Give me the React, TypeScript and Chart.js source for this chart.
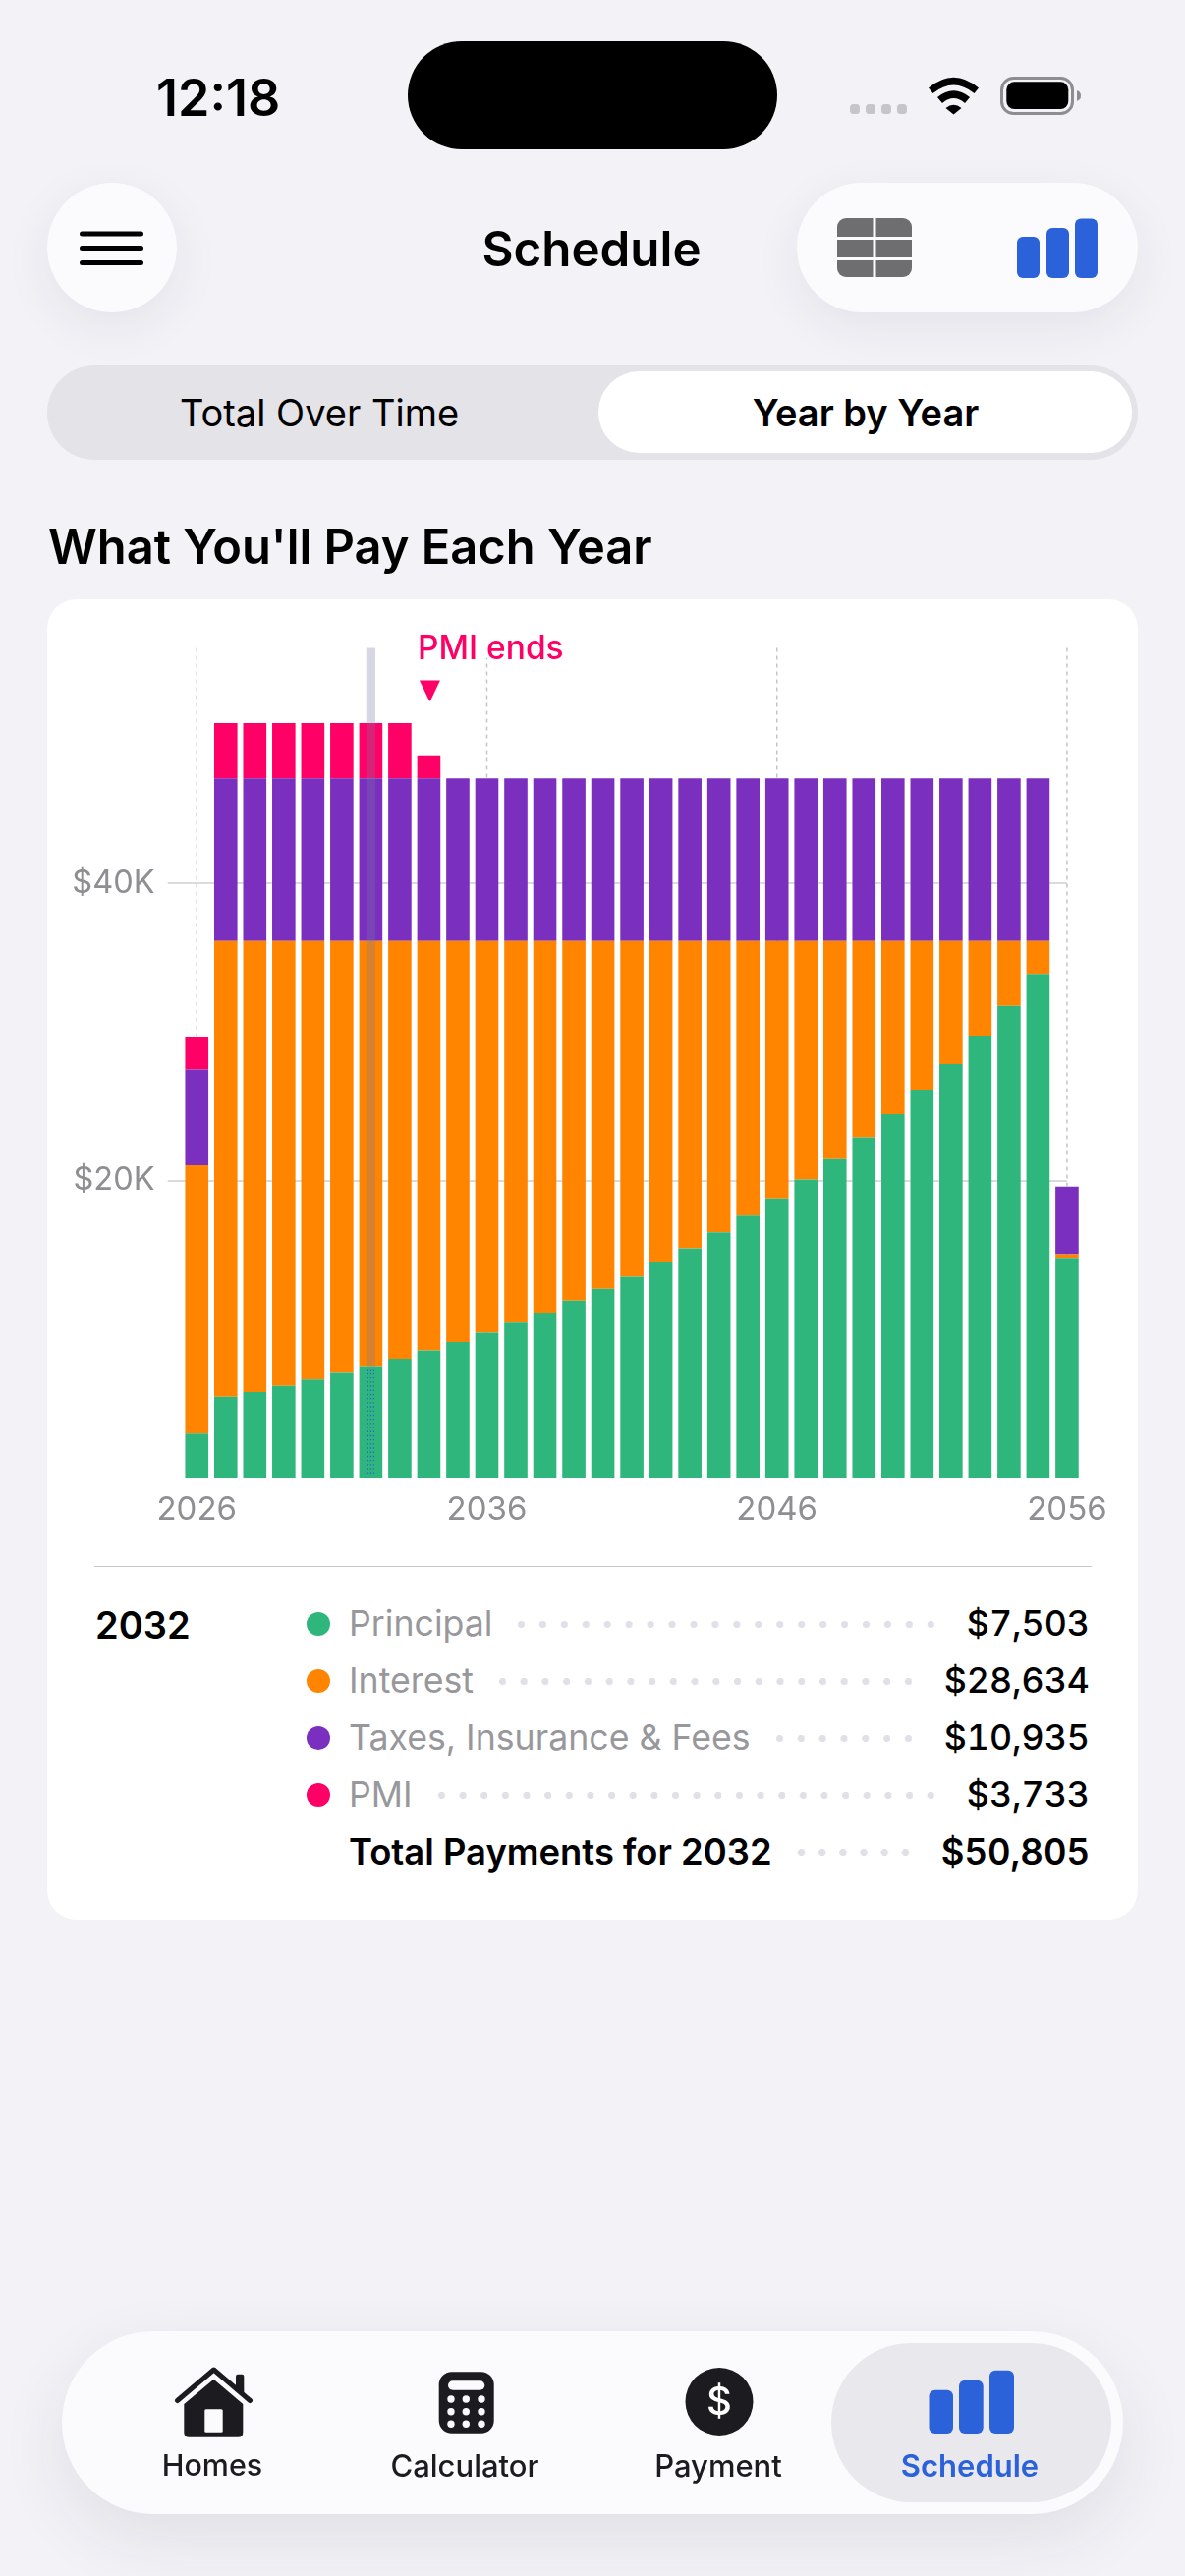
import { useEffect, useRef } from 'react'
import Chart from 'chart.js/auto'

const years = [2026, 2027, 2028, 2029, 2030, 2031, 2032, 2033, 2034, 2035, 2036, 2037, 2038, 2039, 2040, 2041, 2042, 2043, 2044, 2045, 2046, 2047, 2048, 2049, 2050, 2051, 2052, 2053, 2054, 2055, 2056]
const principal = [2960, 5440, 5760, 6160, 6600, 7040, 7503, 8000, 8560, 9120, 9760, 10440, 11120, 11920, 12720, 13520, 14480, 15440, 16520, 17640, 18800, 20080, 21440, 22920, 24480, 26120, 27840, 29760, 31760, 33920, 14800]
const interest = [18080, 30697, 30377, 29977, 29537, 29097, 28634, 28137, 27577, 27017, 26377, 25697, 25017, 24217, 23417, 22617, 21657, 20697, 19617, 18497, 17337, 16057, 14697, 13217, 11657, 10017, 8297, 6377, 4377, 2217, 240]
const taxes = [6440, 10935, 10935, 10935, 10935, 10935, 10935, 10935, 10935, 10935, 10935, 10935, 10935, 10935, 10935, 10935, 10935, 10935, 10935, 10935, 10935, 10935, 10935, 10935, 10935, 10935, 10935, 10935, 10935, 10935, 4560]
const pmi = [2160, 3733, 3733, 3733, 3733, 3733, 3733, 3733, 1560, 0, 0, 0, 0, 0, 0, 0, 0, 0, 0, 0, 0, 0, 0, 0, 0, 0, 0, 0, 0, 0, 0]

const xTickYears = [2026, 2036, 2046, 2056]
const yTicks = [20000, 40000]
const yMax = 55860
const selectedYear = 2032
const pmiEndYear = 2034

const legendLabels = ['Principal', 'Interest', 'Taxes, Insurance & Fees', 'PMI']
const legendValues = ['$7,503', '$28,634', '$10,935', '$3,733']
const totalLabel = 'Total Payments for 2032'
const totalValue = '$50,805'

const GREEN = '#2fb67c'
const ORANGE = '#ff8500'
const PURPLE = '#7a2fbe'
const PINK = '#ff0066'
const BLUE = '#2b62d9'
const INK = '#1c1c20'
const GREY = '#8e8e93'
const legendColors = [GREEN, ORANGE, PURPLE, PINK]
const FONT = 'Inter, "Noto Sans", sans-serif'

// guides, highlight band and the PMI marker, all placed through the chart's scales
const overlays = {
  id: 'overlays',
  beforeDatasetsDraw(chart: any) {
    const { ctx, chartArea, scales } = chart
    const xs = scales.x
    const step = xs.getPixelForValue(1) - xs.getPixelForValue(0)
    ctx.save()
    ctx.strokeStyle = '#cfcfd3'
    ctx.lineWidth = 1.5
    yTicks.forEach((t) => {
      const y = Math.round(scales.y.getPixelForValue(t))
      ctx.beginPath()
      ctx.moveTo(xs.getPixelForValue(0) - step, y)
      ctx.lineTo(xs.getPixelForValue(years.length - 1), y)
      ctx.stroke()
    })
    ctx.setLineDash([4, 4])
    ctx.strokeStyle = '#c4c4c8'
    xTickYears.forEach((yr) => {
      const x = xs.getPixelForValue(years.indexOf(yr))
      ctx.beginPath()
      ctx.moveTo(x, chartArea.top)
      ctx.lineTo(x, chartArea.bottom)
      ctx.stroke()
    })
    ctx.restore()
  },
  afterDatasetsDraw(chart: any) {
    const { ctx, chartArea, scales } = chart
    const xs = scales.x
    const selIndex = years.indexOf(selectedYear)
    const selX = xs.getPixelForValue(selIndex)
    const greenTop = scales.y.getPixelForValue(principal[selIndex])
    ctx.save()
    // the band stops at the principal segment, which carries a dotted trace instead
    ctx.fillStyle = 'rgba(120,120,165,0.3)'
    ctx.fillRect(selX - 4.6, chartArea.top, 9.2, greenTop - chartArea.top)
    ctx.strokeStyle = BLUE
    ctx.lineWidth = 1.2
    ctx.setLineDash([1.4, 2.8])
    ;[-3, 0, 3].forEach((dx) => {
      ctx.beginPath()
      ctx.moveTo(selX + dx, greenTop + 3)
      ctx.lineTo(selX + dx, chartArea.bottom - 2)
      ctx.stroke()
    })
    ctx.setLineDash([])

    const endX = xs.getPixelForValue(years.indexOf(pmiEndYear))
    ctx.font = '500 33.5px ' + FONT
    ctx.textBaseline = 'middle'
    ctx.textAlign = 'left'
    const w = ctx.measureText('PMI ends').width
    ctx.fillStyle = '#ffffff'
    ctx.fillRect(endX - 13, chartArea.top - 20, w + 4, 30)
    ctx.fillStyle = PINK
    ctx.fillText('PMI ends', endX - 11.5, chartArea.top + 1)
    ctx.beginPath()
    ctx.moveTo(endX - 9.5, chartArea.top + 33)
    ctx.lineTo(endX + 11.5, chartArea.top + 33)
    ctx.lineTo(endX + 2, chartArea.top + 53)
    ctx.quadraticCurveTo(endX + 1, chartArea.top + 55, endX - 0, chartArea.top + 53)
    ctx.closePath()
    ctx.fill()
    ctx.restore()
  },
}

function ScheduleChart() {
  const canvasRef = useRef<HTMLCanvasElement>(null)

  useEffect(() => {
    if (!canvasRef.current) return
    const series = [
      { label: 'Principal', data: principal, backgroundColor: GREEN },
      { label: 'Interest', data: interest, backgroundColor: ORANGE },
      { label: 'Taxes, Insurance & Fees', data: taxes, backgroundColor: PURPLE },
      { label: 'PMI', data: pmi, backgroundColor: PINK },
    ]
    const chart = new Chart(canvasRef.current, {
      type: 'bar',
      data: {
        labels: years.map(String),
        datasets: series.map((s) => ({ ...s, barPercentage: 0.8, categoryPercentage: 1, stack: 'a' })),
      },
      plugins: [overlays],
      options: {
        animation: false,
        responsive: false,
        layout: { padding: { top: 25, right: 57.3, left: 0, bottom: 0 } },
        plugins: { legend: { display: false }, tooltip: { enabled: false } },
        scales: {
          x: {
            stacked: true,
            grid: { display: false },
            border: { display: false },
            afterFit: (s: any) => { s.height = 66 },
            ticks: {
              autoSkip: false,
              maxRotation: 0,
              padding: 5,
              color: GREY,
              font: { family: FONT, size: 33 },
              callback: (_v: any, i: number) => (xTickYears.includes(years[i]) ? String(years[i]) : ''),
            },
          },
          y: {
            stacked: true,
            min: 0,
            max: yMax,
            grid: { display: false },
            border: { display: false },
            afterBuildTicks: (s: any) => { s.ticks = yTicks.map((value) => ({ value })) },
            afterFit: (s: any) => { s.width = 137.5 },
            ticks: {
              padding: 20,
              color: GREY,
              font: { family: FONT, size: 32.5 },
              callback: (v: any) => `$${Number(v) / 1000}K`,
            },
          },
        },
      },
    })
    return () => { chart.destroy() }
  }, [])

  return <canvas ref={canvasRef} width={1110} height={950} style={{ position: 'absolute', left: 48, top: 620, display: 'block' }} />
}

function Text({ x, y, children, size, weight = 400, color = '#000', anchor = 'left' }: any) {
  const shift = anchor === 'center' ? '-50%' : anchor === 'right' ? '-100%' : '0'
  return (
    <div style={{ position: 'absolute', left: x, top: y, transform: `translate(${shift}, -50%)`, fontSize: size, fontWeight: weight, color, whiteSpace: 'nowrap', lineHeight: 1 }}>
      {children}
    </div>
  )
}

function Box({ x, y, w, h, r = 0, bg, shadow }: any) {
  return <div style={{ position: 'absolute', left: x, top: y, width: w, height: h, borderRadius: r, background: bg, boxShadow: shadow }} />
}

function Icons() {
  return (
    <svg width={1206} height={2622} style={{ position: 'absolute', left: 0, top: 0, pointerEvents: 'none' }}>
      {/* signal dots */}
      {[865, 881, 897, 913].map((x) => <rect key={x} x={x} y={106} width={10} height={10} rx={3.5} fill="#c6c6ca" />)}
      {/* wifi */}
      <path d="M945 89.5 Q970.5 68 996 89.5 L991.5 95 Q970.5 78 949.5 95 Z" fill="#000" />
      <path d="M954 99 Q970.5 85.5 987 99 L982 105 Q970.5 95 959 105 Z" fill="#000" />
      <path d="M962.5 110 Q970.5 103.5 978.5 110 L970.5 116.5 Z" fill="#000" />
      {/* battery */}
      <rect x={1019.5} y={79.5} width={72} height={36} rx={12} fill="none" stroke="#8e8e92" strokeWidth={3} />
      <rect x={1024.3} y={83.3} width={63} height={27.7} rx={8} fill="#000" />
      <path d="M1096 92.3 Q1100 93 1100 97.5 Q1100 102 1096 102.7 Z" fill="#8e8e92" />
      {/* hamburger */}
      {[238, 252.5, 267.5].map((y) => <rect key={y} x={81} y={y - 2.5} width={65} height={5} rx={2.5} fill="#000" />)}
      {/* table toggle */}
      <rect x={852} y={222} width={76} height={60} rx={9} fill="#6e6e70" />
      <rect x={888.5} y={222} width={3} height={60} fill="#fbfbfd" />
      <rect x={852} y={241} width={76} height={3} fill="#fbfbfd" />
      <rect x={852} y={262} width={76} height={3} fill="#fbfbfd" />
      {/* chart toggle */}
      <rect x={1035} y={241} width={23} height={42} rx={6} fill={BLUE} />
      <rect x={1065} y={232} width={23} height={51} rx={6} fill={BLUE} />
      <rect x={1094} y={222.5} width={23} height={60.5} rx={6} fill={BLUE} />
      {/* home */}
      <path d="M187.3 2447 L217.5 2421.7 L247.3 2447 L247.3 2475.7 Q247.3 2480.7 242.3 2480.7 L192.3 2480.7 Q187.3 2480.7 187.3 2475.7 Z" fill={INK} />
      <path d="M180.5 2443.5 L217.6 2412 L254.5 2443.5" fill="none" stroke={INK} strokeWidth={5} strokeLinecap="round" strokeLinejoin="round" />
      <path d="M240 2431 L240 2418.7 Q240 2416.7 242 2416.7 L246.3 2416.7 Q248.3 2416.7 248.3 2418.7 L248.3 2438 Z" fill={INK} />
      <rect x={208.3} y={2452.3} width={18.4} height={23.4} rx={1.5} fill="#fbfbfd" />
      {/* calculator */}
      <rect x={446.7} y={2414.3} width={56} height={62.4} rx={13} fill={INK} />
      <rect x={456} y={2423.3} width={37.3} height={9.4} rx={4.7} fill="#fbfbfd" />
      {[2442, 2454.7, 2467.3].map((y) => [459, 474.3, 490].map((x) => <circle key={`${x}-${y}`} cx={x} cy={y} r={3.7} fill="#fbfbfd" />))}
      {/* payment */}
      <circle cx={732} cy={2444.5} r={34.5} fill={INK} />
      {/* schedule */}
      <rect x={945.5} y={2432.7} width={24.5} height={44.3} rx={6} fill={BLUE} />
      <rect x={976} y={2422.7} width={24.7} height={54.3} rx={6} fill={BLUE} />
      <rect x={1007} y={2412.7} width={25} height={64.3} rx={6} fill={BLUE} />
    </svg>
  )
}

function LegendRow({ label, value, color, top, bold }: any) {
  return (
    <div style={{ position: 'absolute', left: 355, top, width: 754, height: 40, marginTop: -20, display: 'flex', alignItems: 'center', fontSize: bold ? 36.4 : 35.7, lineHeight: 1 }}>
      {color && <div style={{ position: 'absolute', left: -43, top: 8, width: 24, height: 24, borderRadius: 12, background: color }} />}
      <span style={{ color: bold ? '#000' : '#98989c', fontWeight: bold ? 600 : 400, whiteSpace: 'nowrap' }}>{label}</span>
      <div style={{
        flex: 1,
        height: 7,
        margin: '0 26px 0 19px',
        backgroundImage: 'radial-gradient(circle, #e0e0e8 3.4px, transparent 3.8px)',
        backgroundSize: '21px 7px',
        backgroundRepeat: 'space no-repeat',
      }} />
      <span style={{ color: '#000', fontWeight: bold ? 600 : 500, whiteSpace: 'nowrap', fontVariantNumeric: 'tabular-nums' }}>{value}</span>
    </div>
  )
}

export default function App() {
  const softShadow = '0 14px 50px rgba(40,40,60,0.07)'
  return (
    <div style={{ position: 'absolute', left: 0, top: 0, width: 1206, height: 2622, overflow: 'hidden', background: '#f2f2f7', fontFamily: FONT }}>
      <style>{'body{margin:0}'}</style>

      {/* status bar */}
      <Text x={159} y={99.5} size={52} weight={600}>12:18</Text>
      <Box x={415} y={41.5} w={376} h={110.5} r={55} bg="#000" />

      {/* header */}
      <Box x={48} y={186} w={132} h={132} r={66} bg="#fbfbfd" shadow={softShadow} />
      <Box x={811} y={186} w={347} h={132} r={66} bg="#fbfbfd" shadow={softShadow} />
      <Text x={602} y={253.5} size={49.3} weight={600} anchor="center">Schedule</Text>

      {/* segmented control */}
      <Box x={48} y={372} w={1110} h={96} r={48} bg="#e3e3e8" />
      <Box x={609} y={378} w={543} h={83} r={42} bg="#fff" />
      <Text x={325} y={420} size={38} weight={400} anchor="center">Total Over Time</Text>
      <Text x={881} y={420} size={38} weight={600} anchor="center">Year by Year</Text>

      <Text x={49} y={556.5} size={48.8} weight={600}>What You'll Pay Each Year</Text>

      {/* card */}
      <Box x={48} y={610} w={1110} h={1344} r={30} bg="#fff" />
      <ScheduleChart />
      <Box x={96} y={1593.5} w={1014.5} h={1.5} bg="#c8c8cc" />
      <Text x={97} y={1654} size={38} weight={600}>2032</Text>
      {legendLabels.map((label, i) => (
        <LegendRow key={label} label={label} value={legendValues[i]} color={legendColors[i]} top={1653 + i * 58} />
      ))}
      <LegendRow label={totalLabel} value={totalValue} top={1885} bold />

      {/* tab bar */}
      <Box x={63} y={2373} w={1080} h={186} r={93} bg="#fbfbfd" shadow="0 24px 70px rgba(40,40,60,0.09)" />
      <Box x={846} y={2385} w={285} h={162} r={81} bg="#e9e9ed" />
      <Icons />
      <Text x={732} y={2444} size={40} weight={500} color="#fff" anchor="center">$</Text>
      <Text x={216} y={2509} size={30.5} weight={500} color={INK} anchor="center">Homes</Text>
      <Text x={473} y={2509} size={31} weight={500} color={INK} anchor="center">Calculator</Text>
      <Text x={731} y={2509} size={31} weight={500} color={INK} anchor="center">Payment</Text>
      <Text x={987} y={2509} size={31} weight={600} color={BLUE} anchor="center">Schedule</Text>
    </div>
  )
}
